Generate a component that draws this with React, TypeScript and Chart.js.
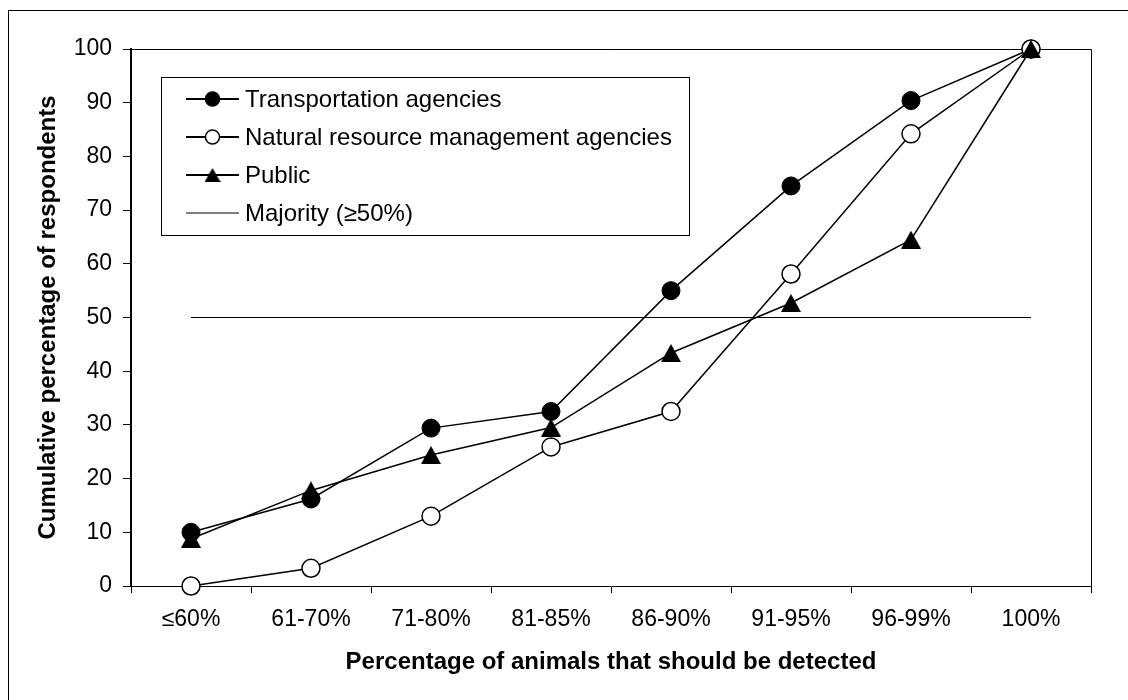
import React, { useEffect, useRef } from "react";
import { Chart, registerables } from "chart.js";

Chart.register(...registerables);

const categories = ["≤60%", "61-70%", "71-80%", "81-85%", "86-90%", "91-95%", "96-99%", "100%"];
const transportation = [10, 16.2, 29.4, 32.5, 55, 74.5, 90.4, 100];
const naturalResource = [0, 3.3, 13, 25.9, 32.5, 58.1, 84.2, 100];
const publicValues = [8.8, 17.8, 24.4, 29.5, 43.4, 52.7, 64.5, 100];
const majority = [50, 50, 50, 50, 50, 50, 50, 50];
const seriesNames = [
  "Transportation agencies",
  "Natural resource management agencies",
  "Public",
  "Majority (≥50%)",
];
const yMin = 0;
const yMax = 100;
const yStep = 10;
const xTitle = "Percentage of animals that should be detected";
const yTitle = "Cumulative percentage of respondents";

const FONT = "'Liberation Sans', Arial, sans-serif";

function makeTriangle(w: number, h: number) {
  const c = document.createElement("canvas");
  c.width = w;
  c.height = h;
  const g = c.getContext("2d")!;
  g.fillStyle = "#000";
  g.beginPath();
  g.moveTo(w / 2, 0);
  g.lineTo(w, h);
  g.lineTo(0, h);
  g.closePath();
  g.fill();
  return c;
}

const framePlugin = {
  id: "frame",
  beforeDatasetsDraw(chart: any) {
    const { ctx, chartArea } = chart;
    ctx.save();
    ctx.strokeStyle = "#000";
    ctx.lineWidth = 1;
    ctx.beginPath();
    ctx.moveTo(chartArea.left, Math.round(chartArea.top) + 0.5);
    ctx.lineTo(Math.round(chartArea.right) + 0.5, Math.round(chartArea.top) + 0.5);
    ctx.lineTo(Math.round(chartArea.right) + 0.5, chartArea.bottom);
    ctx.stroke();
    ctx.restore();
  },
  afterDatasetsDraw(chart: any) {
    const { ctx } = chart;
    ctx.save();
    const bx = 161, by = 77, bw = 528, bh = 158;
    ctx.fillStyle = "#fff";
    ctx.fillRect(bx, by, bw, bh);
    ctx.strokeStyle = "#000";
    ctx.lineWidth = 1;
    ctx.strokeRect(bx + 0.5, by + 0.5, bw, bh);
    const tri = makeTriangle(16, 14);
    for (let i = 0; i < 4; i++) {
      const y = 99 + 38 * i;
      ctx.strokeStyle = "#000";
      ctx.lineWidth = i === 3 ? 1 : 2;
      ctx.beginPath();
      ctx.moveTo(186, y);
      ctx.lineTo(239, y);
      ctx.stroke();
      if (i === 0 || i === 1) {
        ctx.beginPath();
        ctx.arc(212.5, y, 7, 0, Math.PI * 2);
        ctx.fillStyle = i === 0 ? "#000" : "#fff";
        ctx.fill();
        ctx.lineWidth = 1.5;
        ctx.stroke();
      } else if (i === 2) {
        ctx.drawImage(tri, 212.5 - 8, y - 7);
      }
      ctx.fillStyle = "#000";
      ctx.font = `24px ${FONT}`;
      ctx.textAlign = "left";
      ctx.textBaseline = "middle";
      ctx.fillText(seriesNames[i], 245, y + 1);
    }
    ctx.restore();
  },
  afterDraw(chart: any) {
    const { ctx, chartArea } = chart;
    ctx.save();
    ctx.fillStyle = "#000";
    ctx.font = `bold 24px ${FONT}`;
    ctx.textAlign = "center";
    ctx.textBaseline = "alphabetic";
    ctx.fillText(xTitle, (chartArea.left + chartArea.right) / 2, 669);
    ctx.translate(55, (chartArea.top + chartArea.bottom) / 2);
    ctx.rotate(-Math.PI / 2);
    ctx.fillText(yTitle, 0, 0);
    ctx.restore();
  },
};

export default function App() {
  const ref = useRef<HTMLCanvasElement | null>(null);

  useEffect(() => {
    if (!ref.current) return;
    const triangle = makeTriangle(20, 18);
    const chart = new Chart(ref.current, {
      type: "line",
      data: {
        labels: categories,
        datasets: [
          {
            label: seriesNames[0],
            data: transportation,
            borderColor: "#000",
            borderWidth: 1.5,
            backgroundColor: "#000",
            pointBackgroundColor: "#000",
            pointBorderColor: "#000",
            pointBorderWidth: 1,
            pointRadius: 9,
            pointStyle: "circle",
            tension: 0,
            order: 3,
            clip: false as any,
          },
          {
            label: seriesNames[1],
            data: naturalResource,
            borderColor: "#000",
            borderWidth: 1.5,
            backgroundColor: "#fff",
            pointBackgroundColor: "#fff",
            pointBorderColor: "#000",
            pointBorderWidth: 1.5,
            pointRadius: 9,
            pointStyle: "circle",
            tension: 0,
            order: 2,
            clip: false as any,
          },
          {
            label: seriesNames[2],
            data: publicValues,
            borderColor: "#000",
            borderWidth: 1.5,
            backgroundColor: "#000",
            pointRadius: 10,
            pointStyle: triangle as any,
            tension: 0,
            order: 1,
            clip: false as any,
          },
          {
            label: seriesNames[3],
            data: majority,
            borderColor: "#000",
            borderWidth: 1,
            pointRadius: 0,
            tension: 0,
            order: 4,
          },
        ],
      },
      options: {
        animation: false,
        responsive: false,
        maintainAspectRatio: false,
        devicePixelRatio: 1,
        layout: { padding: { left: 0, right: 37, top: 49, bottom: 0 } },
        plugins: {
          legend: { display: false },
          tooltip: { enabled: false },
          title: { display: false },
        },
        events: [],
        scales: {
          x: {
            type: "category",
            offset: true,
            grid: {
              offset: true,
              drawOnChartArea: false,
              drawTicks: true,
              tickLength: 7,
              color: "#000",
              lineWidth: 1,
            },
            border: { display: true, color: "#000", width: 1 },
            ticks: {
              color: "#000",
              font: { family: FONT, size: 23 },
              padding: 13,
              maxRotation: 0,
              autoSkip: false,
            },
            afterFit: (s: any) => {
              s.height = 114;
            },
          },
          y: {
            min: yMin,
            max: yMax,
            ticks: {
              stepSize: yStep,
              color: "#000",
              font: { family: FONT, size: 23 },
              padding: 11,
            },
            grid: {
              drawOnChartArea: false,
              drawTicks: true,
              tickLength: 8,
              color: "#000",
              lineWidth: 1,
            },
            border: { display: true, color: "#000", width: 2 },
            afterFit: (s: any) => {
              s.width = 131;
            },
          },
        },
      },
      plugins: [framePlugin],
    });
    return () => chart.destroy();
  }, []);

  return (
    <div
      style={{
        position: "fixed",
        left: 0,
        top: 0,
        width: 1128,
        height: 700,
        overflow: "hidden",
        background: "#fff",
      }}
    >
      <div
        style={{
          position: "absolute",
          left: 8,
          top: 10,
          width: 1200,
          height: 800,
          borderLeft: "1px solid #000",
          borderTop: "1px solid #000",
          boxSizing: "border-box",
        }}
      />
      <canvas
        ref={ref}
        width={1128}
        height={700}
        style={{ position: "absolute", left: 0, top: 0, width: 1128, height: 700 }}
      />
    </div>
  );
}
